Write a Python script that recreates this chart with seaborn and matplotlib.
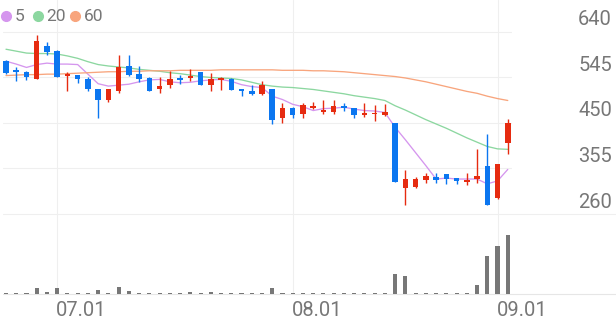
import matplotlib
matplotlib.use("Agg")
import matplotlib.pyplot as plt
from matplotlib import transforms
import seaborn as sns
import pandas as pd

# ---------------- data ----------------
dates = ["06.24", "06.25", "06.26", "06.27", "06.30",
         "07.01", "07.02", "07.03", "07.04", "07.07", "07.08", "07.09", "07.10", "07.11",
         "07.14", "07.15", "07.16", "07.17", "07.18", "07.21", "07.22", "07.23", "07.24",
         "07.25", "07.28", "07.29", "07.30", "07.31",
         "08.01", "08.04", "08.05", "08.06", "08.07", "08.08", "08.11", "08.12", "08.13",
         "08.14", "08.18", "08.19", "08.20", "08.21", "08.22", "08.25", "08.26", "08.27",
         "08.28", "08.29",
         "09.01", "09.02"]

opens = [580, 560, 556, 542, 611, 600, 549, 551, 542, 522, 497, 517, 568, 552, 544,
         521, 529, 544, 544, 556, 530, 540, 542, 521, 516, 510, 521, 461, 481, 468,
         481, 474, 474, 486, 481, 467, 469, 467, 451, 314, 317, 331, 338, 343, 336,
         327, 334, 361, 293, 408]
highs = [582, 567, 558, 634, 619, 603, 556, 551, 547, 522, 522, 593, 591, 570, 545,
         545, 558, 551, 563, 557, 554, 547, 543, 521, 530, 538, 521, 492, 484, 491,
         493, 497, 497, 492, 481, 491, 488, 490, 451, 352, 337, 345, 345, 343, 336,
         346, 395, 428, 365, 458]
lows = [552, 537, 539, 542, 591, 545, 516, 533, 516, 460, 494, 513, 549, 536, 516,
        513, 523, 531, 538, 529, 516, 519, 518, 507, 509, 509, 447, 451, 461, 461,
        479, 469, 469, 476, 461, 462, 455, 465, 326, 279, 315, 324, 324, 322, 322,
        320, 325, 278, 292, 385]
closes = [554, 556, 545, 621, 598, 547, 552, 542, 520, 497, 522, 567, 551, 542, 517,
          528, 542, 539, 549, 530, 542, 544, 519, 516, 511, 529, 456, 482, 467, 488,
          485, 477, 485, 481, 467, 470, 470, 472, 327, 334, 333, 339, 331, 334, 329,
          331, 340, 279, 364, 451]

ma5 = [579, 573, 566, 572, 575, 573, 573, 572, 552, 532, 527, 529, 531, 536, 540,
       541, 536, 534, 535, 538, 540, 541, 537, 530, 526, 524, 506, 499, 489, 484,
       476, 480, 481, 483, 479, 476, 475, 472, 441, 415, 388, 361, 333, 335, 333,
       333, 333, 323, 329, 353]
ma20 = [604, 600, 596, 595, 595, 594, 590, 585, 578, 572, 569, 567, 565, 562, 560,
        558, 555, 553, 550, 547, 545, 544, 543, 540, 535, 530, 527, 525, 524, 522,
        520, 517, 514, 511, 507, 504, 501, 497, 486, 477, 467, 457, 448, 439, 429,
        419, 410, 401, 396, 395]
ma60 = [549, 550, 551, 551, 552, 552, 553, 554, 555, 556, 557, 557, 558, 558, 559,
        559, 559, 560, 560, 560, 560, 561, 561, 561, 561, 561, 561, 560, 560, 560,
        559, 559, 558, 557, 555, 553, 551, 549, 547, 544, 540, 536, 531, 526, 521,
        516, 512, 506, 501, 497]

volumes = [1, 1, 1, 6, 2.5, 6.5, 1.5, 1.2, 1.5, 4, 1.5, 7, 3, 1.2, 1.2,
           1.2, 1.2, 1.2, 2.5, 1, 2.5, 1.2, 1.2, 1.2, 1.2, 1.2, 6.5, 1, 1, 1,
           0.8, 0.8, 0.8, 0.8, 0.8, 0.8, 0.8, 0.8, 20, 18, 1.5, 1, 1, 1.5, 1.5,
           1, 9, 38, 48, 59]

price_ticks = [640, 545, 450, 355, 260]
x_tick_dates = ["07.01", "08.01", "09.01"]
ma_labels = ["5", "20", "60"]

# ---------------- style ----------------
RED = "#e62b10"
BLUE = "#0b76f0"
MA_COLORS = ["#d596ee", "#8cd7a0", "#f8a57d"]
GRID = "#efefef"
TEXT = "#777777"
VOL = "#777777"

sns.set_theme(style="white")
plt.rcParams["font.family"] = ["Roboto", "DejaVu Sans"]

W, H = 616, 321
fig = plt.figure(figsize=(W / 100, H / 100), dpi=100)
ax = fig.add_axes([0, 1 - 214 / H, 1, 214 / H])
axv = fig.add_axes([0, 1 - 294 / H, 1, 80 / H])

n = len(dates)
idx = list(range(n))
df = pd.DataFrame({"i": idx, "date": dates, "open": opens, "high": highs,
                   "low": lows, "close": closes, "ma5": ma5, "ma20": ma20,
                   "ma60": ma60, "vol": volumes})

# moving averages
for col, c in zip(["ma5", "ma20", "ma60"], MA_COLORS):
    sns.lineplot(data=df, x="i", y=col, ax=ax, color=c, linewidth=0.95,
                 legend=False, zorder=2)

# candles
colors = [RED if c >= o else BLUE for o, c in zip(df["open"], df["close"])]
ax.vlines(df["i"], df["low"], df["high"], colors=colors, linewidth=1.0, zorder=3)
body_h = [max(abs(c - o), 3) for o, c in zip(df["open"], df["close"])]
body_b = [min(o, c) if abs(c - o) >= 3 else (o + c) / 2 - 1.5
          for o, c in zip(df["open"], df["close"])]
ax.bar(df["i"], body_h, bottom=body_b, width=0.54, color=colors, zorder=4,
       linewidth=0)

# volume
sns.barplot(data=df, x="i", y="vol", ax=axv, native_scale=True, color=VOL,
            saturation=1, width=0.4, errorbar=None, linewidth=0)

# axes ranges
x0, x1 = -0.586, 59.57
ax.set_xlim(x0, x1)
axv.set_xlim(x0, x1)
ax.set_ylim(260, 706.8)
axv.set_ylim(0, 80)
for a in (ax, axv):
    a.set_axis_off()

# grid lines
for v in price_ticks[:-1]:
    ax.axhline(v, xmin=3 / W, xmax=511 / W, color=GRID, lw=0.8, zorder=0)
ax.axhline(price_ticks[-1], xmin=3 / W, xmax=1, color=GRID, lw=0.8, zorder=0,
           clip_on=False)
axv.axhline(0, xmin=3 / W, xmax=1, color="#e6e6e6", lw=0.8, zorder=0,
            clip_on=False)
for d in x_tick_dates:
    p = dates.index(d)
    ax.axvline(p, color=GRID, lw=0.8, zorder=0)
    axv.axvline(p, color=GRID, lw=0.8, zorder=0)

# price labels (right side, just above their grid line)
ytr = transforms.blended_transform_factory(ax.transAxes, ax.transData) + \
    transforms.ScaledTranslation(0, 6.5 / 100, fig.dpi_scale_trans)
for v in price_ticks:
    ax.text(612 / W, v, str(v), transform=ytr, ha="right", va="baseline",
            fontsize=14.5, color=TEXT)

# date labels
xtr = transforms.blended_transform_factory(axv.transData, fig.transFigure)
for d in x_tick_dates:
    axv.text(dates.index(d) - 0.1, 1 - 316.5 / H, d, transform=xtr, ha="left",
             va="baseline", fontsize=14.5, color=TEXT)

# legend
dot_x = [6, 37.7, 75]
txt_x = [14.5, 46, 83.5]
for lab, c, dx, tx in zip(ma_labels, MA_COLORS, dot_x, txt_x):
    fig.lines.append(plt.Line2D([dx / W], [1 - 15.7 / H], marker="o",
                                markersize=7, color=c, linestyle="none",
                                transform=fig.transFigure))
    fig.text(tx / W, 1 - 21.3 / H, lab, ha="left", va="baseline",
             fontsize=12.5, color=TEXT)

fig.savefig("out.png", dpi=100)
